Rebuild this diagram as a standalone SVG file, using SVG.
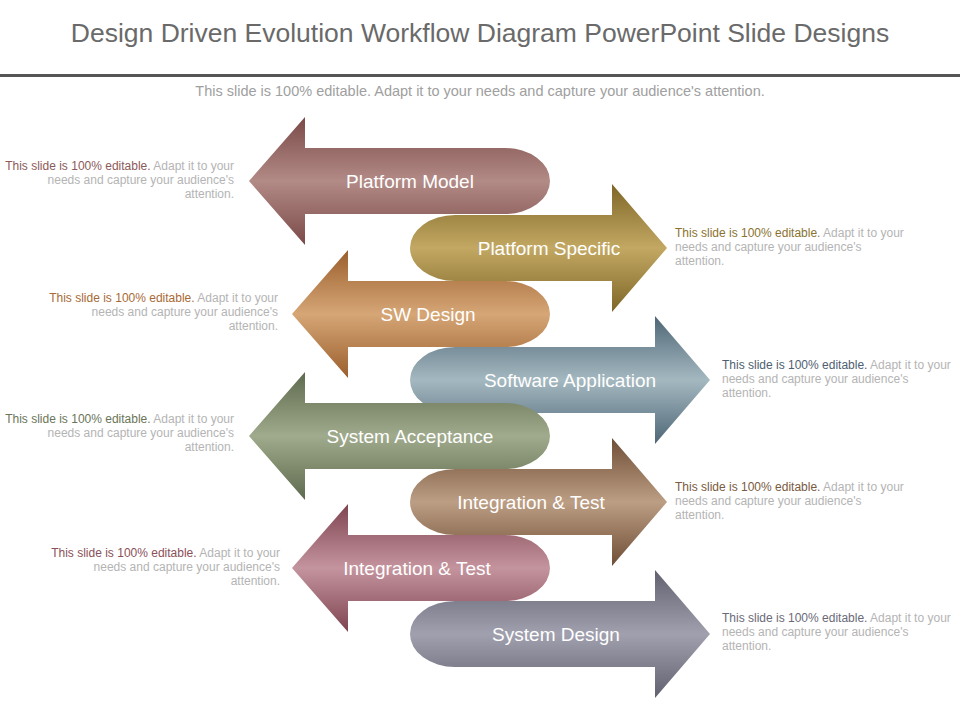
<svg xmlns="http://www.w3.org/2000/svg" width="960" height="720" viewBox="0 0 960 720">
<style>
.lbl{font-family:"Liberation Sans",Arial,sans-serif;font-size:19px;fill:#fff;text-anchor:middle}
.d{font-family:"Liberation Sans",Arial,sans-serif;font-size:12px;fill:#b4b4b4}
.r{text-anchor:end}
</style>
<defs>
<linearGradient id="g1" x1="0" y1="0" x2="0" y2="1"><stop offset="0" stop-color="#7a4a48"/><stop offset="0.5" stop-color="#b28a86"/><stop offset="1" stop-color="#7a4a48"/></linearGradient>
<linearGradient id="g2" x1="0" y1="0" x2="0" y2="1"><stop offset="0" stop-color="#7e6628"/><stop offset="0.5" stop-color="#c2a862"/><stop offset="1" stop-color="#7e6628"/></linearGradient>
<linearGradient id="g3" x1="0" y1="0" x2="0" y2="1"><stop offset="0" stop-color="#9a5e2c"/><stop offset="0.5" stop-color="#d6a676"/><stop offset="1" stop-color="#9a5e2c"/></linearGradient>
<linearGradient id="g4" x1="0" y1="0" x2="0" y2="1"><stop offset="0" stop-color="#4e6676"/><stop offset="0.5" stop-color="#a4b8c0"/><stop offset="1" stop-color="#4e6676"/></linearGradient>
<linearGradient id="g5" x1="0" y1="0" x2="0" y2="1"><stop offset="0" stop-color="#5e6a4e"/><stop offset="0.5" stop-color="#a0aa8c"/><stop offset="1" stop-color="#5e6a4e"/></linearGradient>
<linearGradient id="g6" x1="0" y1="0" x2="0" y2="1"><stop offset="0" stop-color="#6e4e36"/><stop offset="0.5" stop-color="#bc9e84"/><stop offset="1" stop-color="#6e4e36"/></linearGradient>
<linearGradient id="g7" x1="0" y1="0" x2="0" y2="1"><stop offset="0" stop-color="#7e4450"/><stop offset="0.5" stop-color="#c4949e"/><stop offset="1" stop-color="#7e4450"/></linearGradient>
<linearGradient id="g8" x1="0" y1="0" x2="0" y2="1"><stop offset="0" stop-color="#60606e"/><stop offset="0.5" stop-color="#a0a0ae"/><stop offset="1" stop-color="#60606e"/></linearGradient>
</defs>
<rect width="960" height="720" fill="#fff"/>
<text x="480" y="42" text-anchor="middle" font-family="'Liberation Sans',Arial,sans-serif" font-size="26.5" fill="#6a6a6a">Design Driven Evolution Workflow Diagram PowerPoint Slide Designs</text>
<rect x="0" y="74" width="960" height="3" fill="#555"/>
<text x="480" y="96" text-anchor="middle" font-family="'Liberation Sans',Arial,sans-serif" font-size="14.5" fill="#a0a0a0">This slide is 100% editable. Adapt it to your needs and capture your audience's attention.</text>

<g id="platform-model"><path d="M249,181 L305,117 L305,148 L505,148 A45 33 0 0 1 505,214 L305,214 L305,245 Z" fill="url(#g1)"/><text class="lbl" x="410" y="188">Platform Model</text></g>
<g id="platform-specific"><path d="M667,248 L612,184 L612,215 L455,215 A45 33 0 0 0 455,281 L612,281 L612,312 Z" fill="url(#g2)"/><text class="lbl" x="549" y="255">Platform Specific</text></g>
<g id="sw-design"><path d="M292,314 L348,250 L348,281 L505,281 A45 33 0 0 1 505,347 L348,347 L348,378 Z" fill="url(#g3)"/><text class="lbl" x="428" y="321">SW Design</text></g>
<g id="software-application"><path d="M710,380 L655,316 L655,347 L455,347 A45 33 0 0 0 455,413 L655,413 L655,444 Z" fill="url(#g4)"/><text class="lbl" x="570" y="387">Software Application</text></g>
<g id="system-acceptance"><path d="M249,436 L305,372 L305,403 L505,403 A45 33 0 0 1 505,469 L305,469 L305,500 Z" fill="url(#g5)"/><text class="lbl" x="410" y="443">System Acceptance</text></g>
<g id="integration-test-1"><path d="M667,502 L612,438 L612,469 L455,469 A45 33 0 0 0 455,535 L612,535 L612,566 Z" fill="url(#g6)"/><text class="lbl" x="531" y="509">Integration &amp; Test</text></g>
<g id="integration-test-2"><path d="M292,568 L348,504 L348,535 L505,535 A45 33 0 0 1 505,601 L348,601 L348,632 Z" fill="url(#g7)"/><text class="lbl" x="417" y="575">Integration &amp; Test</text></g>
<g id="system-design"><path d="M710,634 L655,570 L655,601 L455,601 A45 33 0 0 0 455,667 L655,667 L655,698 Z" fill="url(#g8)"/><text class="lbl" x="556" y="641">System Design</text></g>

<g id="desc-1"><text class="d r" x="234" y="170"><tspan fill="#8c5a58">This slide is 100% editable.</tspan> Adapt it to your</text><text class="d r" x="234" y="184">needs and capture your audience's</text><text class="d r" x="234" y="198">attention.</text></g>
<g id="desc-2"><text class="d" x="675" y="237"><tspan fill="#8a7330">This slide is 100% editable.</tspan> Adapt it to your</text><text class="d" x="675" y="251">needs and capture your audience's</text><text class="d" x="675" y="265">attention.</text></g>
<g id="desc-3"><text class="d r" x="278" y="302"><tspan fill="#a86a35">This slide is 100% editable.</tspan> Adapt it to your</text><text class="d r" x="278" y="316">needs and capture your audience's</text><text class="d r" x="278" y="330">attention.</text></g>
<g id="desc-4"><text class="d" x="722" y="369"><tspan fill="#4e6070">This slide is 100% editable.</tspan> Adapt it to your</text><text class="d" x="722" y="383">needs and capture your audience's</text><text class="d" x="722" y="397">attention.</text></g>
<g id="desc-5"><text class="d r" x="234" y="423"><tspan fill="#6a7558">This slide is 100% editable.</tspan> Adapt it to your</text><text class="d r" x="234" y="437">needs and capture your audience's</text><text class="d r" x="234" y="451">attention.</text></g>
<g id="desc-6"><text class="d" x="675" y="491"><tspan fill="#7a5a40">This slide is 100% editable.</tspan> Adapt it to your</text><text class="d" x="675" y="505">needs and capture your audience's</text><text class="d" x="675" y="519">attention.</text></g>
<g id="desc-7"><text class="d r" x="280" y="557"><tspan fill="#8a5058">This slide is 100% editable.</tspan> Adapt it to your</text><text class="d r" x="280" y="571">needs and capture your audience's</text><text class="d r" x="280" y="585">attention.</text></g>
<g id="desc-8"><text class="d" x="722" y="622"><tspan fill="#6a6a78">This slide is 100% editable.</tspan> Adapt it to your</text><text class="d" x="722" y="636">needs and capture your audience's</text><text class="d" x="722" y="650">attention.</text></g>
<g id="connectors"/>
</svg>
